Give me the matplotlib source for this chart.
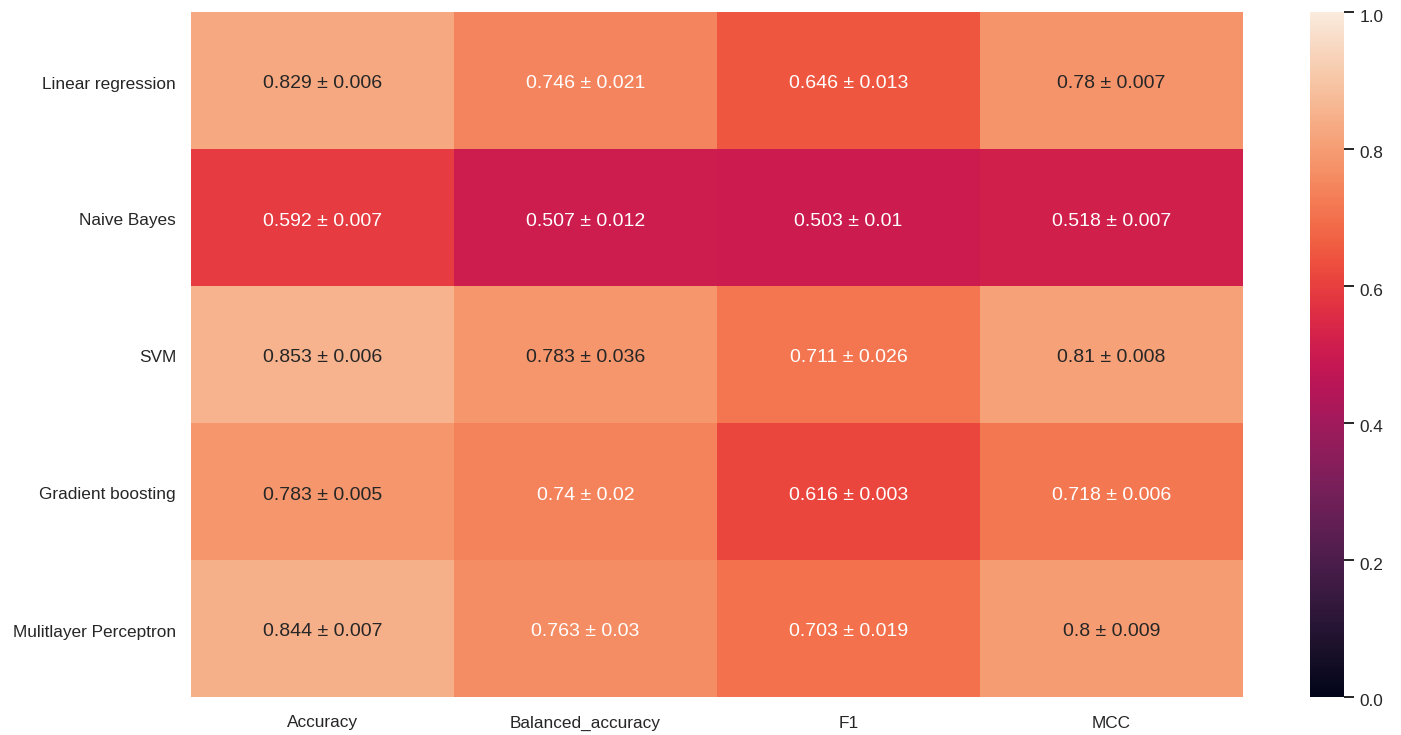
import matplotlib
matplotlib.use("Agg")
import matplotlib.pyplot as plt
import matplotlib.transforms as mtransforms
import numpy as np
import pandas as pd
import seaborn as sns

models = ["Linear regression", "Naive Bayes", "SVM", "Gradient boosting", "Mulitlayer Perceptron"]
metrics = ["Accuracy", "Balanced_accuracy", "F1", "MCC"]

mean_acc = [0.829, 0.592, 0.853, 0.783, 0.844]
mean_bal = [0.746, 0.507, 0.783, 0.74, 0.763]
mean_f1 = [0.646, 0.503, 0.711, 0.616, 0.703]
mean_mcc = [0.78, 0.518, 0.81, 0.718, 0.8]

std_acc = [0.006, 0.007, 0.006, 0.005, 0.007]
std_bal = [0.021, 0.012, 0.036, 0.02, 0.03]
std_f1 = [0.013, 0.01, 0.026, 0.003, 0.019]
std_mcc = [0.007, 0.007, 0.008, 0.006, 0.009]

means = pd.DataFrame(np.array([mean_acc, mean_bal, mean_f1, mean_mcc]).T,
                     index=models, columns=metrics)
stds = pd.DataFrame(np.array([std_acc, std_bal, std_f1, std_mcc]).T,
                    index=models, columns=metrics)

# annotation strings "mean ± std"
labels = np.empty(means.shape, dtype=object)
for i in range(means.shape[0]):
    for j in range(means.shape[1]):
        labels[i, j] = f"{means.iat[i, j]:g} \u00b1 {stds.iat[i, j]:g}"

sns.set_style("white")
plt.rcParams["font.family"] = ["Liberation Sans", "DejaVu Sans"]
plt.rcParams["text.color"] = ".15"
plt.rcParams["xtick.color"] = ".15"
plt.rcParams["ytick.color"] = ".15"

fig = plt.figure(figsize=(14.01, 7.35), dpi=100)
ax = fig.add_axes([191 / 1401, 1 - 697 / 735, (1243 - 191) / 1401, (697 - 12) / 735])
cax = fig.add_axes([1310 / 1401, 1 - 697 / 735, 34 / 1401, (697 - 12) / 735])

sns.heatmap(means, annot=labels, fmt="", vmin=0, vmax=1, ax=ax, cbar_ax=cax,
            annot_kws={"fontsize": 14})

ax.tick_params(axis="both", length=0, pad=10.8, labelsize=12.4)
ax.set_yticklabels(models, rotation=0)
ax.set_xticklabels(metrics, rotation=0)

cax.tick_params(axis="y", length=7, width=1.4, pad=4, labelsize=12.4, right=True)
cax.set_yticks([0, 0.2, 0.4, 0.6, 0.8, 1.0])

# nudge all text a few pixels down, as in the reference rendering
shift = mtransforms.ScaledTranslation(0, -3.5 / 100, fig.dpi_scale_trans)
for t in ax.texts:
    t.set_transform(t.get_transform() + shift)
for t in ax.get_yticklabels() + ax.get_xticklabels() + cax.get_yticklabels():
    t.set_transform(t.get_transform() + shift)

fig.savefig("out.png", dpi=100)
